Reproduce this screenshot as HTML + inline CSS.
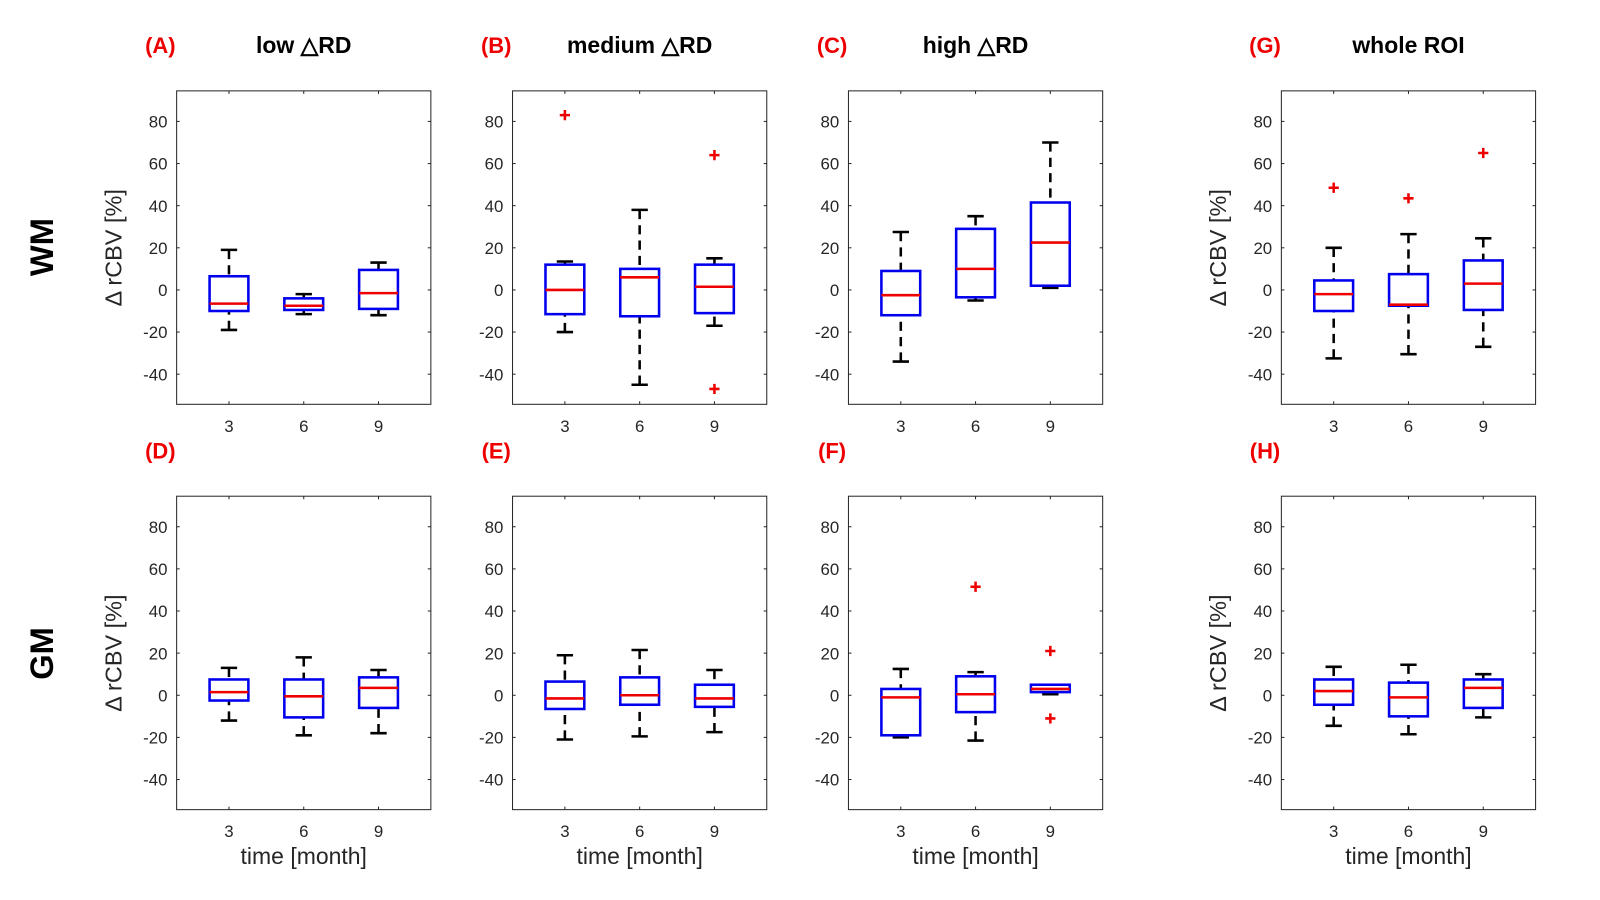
<!DOCTYPE html>
<html><head><meta charset="utf-8"><style>
body{margin:0;background:#fff;}
svg{display:block;font-family:"Liberation Sans",Arial,sans-serif;}
</style></head><body>
<svg id="fig" width="1600" height="900" viewBox="0 0 1600 900" xmlns="http://www.w3.org/2000/svg"><g id="root" transform="scale(1.021)"></g></svg>
<script>
const categories = [3, 6, 9];
const yTicks = [-40, -20, 0, 20, 40, 60, 80];
const panelLetters = ["(A)","(B)","(C)","(G)","(D)","(E)","(F)","(H)"];
const panelTitles = ["low \u25B3RD","medium \u25B3RD","high \u25B3RD","whole ROI","","","",""];
// each stat: [lowerWhisker, q1, median, q3, upperWhisker]
const statsA = [[-19,-10,-6.5,6.5,19],[-11.5,-9.5,-7.5,-4,-2],[-12,-9,-1.5,9.5,13]];
const statsB = [[-20,-11.5,0,12,13.5],[-45,-12.5,6,10,38],[-17,-11,1.5,12,15]];
const statsC = [[-34,-12,-2.5,9,27.5],[-5,-3.5,10,29,35],[1,2,22.5,41.5,70]];
const statsG = [[-32.5,-10,-2,4.5,20],[-30.5,-7.5,-7,7.5,26.5],[-27,-9.5,3,14,24.5]];
const statsD = [[-12,-2.5,1.5,7.5,13],[-19,-10.5,-0.5,7.5,18],[-18,-6,3.5,8.5,12]];
const statsE = [[-21,-6.5,-1.5,6.5,19],[-19.5,-4.5,0,8.5,21.5],[-17.5,-5.5,-1.5,5,12]];
const statsF = [[-20,-19,-1,3,12.5],[-21.5,-8,0.5,9,11],[0.5,1.5,3,5,5]];
const statsH = [[-14.5,-4.5,2,7.5,13.5],[-18.5,-10,-1,6,14.5],[-10.5,-6,3.5,7.5,10]];
const outA = [[],[],[]];
const outB = [[83],[],[64,-47]];
const outC = [[],[],[]];
const outG = [[48.5],[43.5],[65]];
const outD = [[],[],[]];
const outE = [[],[],[]];
const outF = [[],[51.5],[21,-11]];
const outH = [[],[],[]];

const allStats=[statsA,statsB,statsC,statsG,statsD,statsE,statsF,statsH];
const allOut=[outA,outB,outC,outG,outD,outE,outF,outH];
const NS="http://www.w3.org/2000/svg";
const svg=document.getElementById('root');
function mk(tag,attrs,parent,text){const e=document.createElementNS(NS,tag);for(const k in attrs)e.setAttribute(k,attrs[k]);if(text!==undefined)e.textContent=text;(parent||svg).appendChild(e);return e;}
const lefts=[173,502,831,1255], tops=[89,486], W=249, H=307;
const yMin=-54.3,yMax=94.5,xMin=0.3,xMax=3.7;
const hasYLabel=[true,false,false,true];

[["WM",242],["GM",640]].forEach(([t,cy])=>{
 const e=mk('text',{x:0,y:0,transform:`translate(52,${cy}) rotate(-90)`,'text-anchor':'middle','font-size':32,'font-weight':'bold',fill:'#000'},svg,t);
 
 
});

for(let p=0;p<8;p++){
 const col=p%4,row=Math.floor(p/4);
 const L=lefts[col],T=tops[row];
 const g=mk('g',{});
 
 
 const sx=v=>L+(v-xMin)/(xMax-xMin)*W;
 const sy=v=>T+(yMax-v)/(yMax-yMin)*H;
 const lt=mk('text',{x:L-16,y:T-37,'text-anchor':'middle','font-size':21.5,'font-weight':'bold',fill:'#e00'},g,panelLetters[p]);
 
 
 if(panelTitles[p]){
  const tt=mk('text',{x:L+W/2,y:T-37,'text-anchor':'middle','font-size':22.5,'font-weight':'bold',fill:'#000'},g,panelTitles[p]);
  
  
 }
 const frame=mk('rect',{x:L,y:T,width:W,height:H,fill:'#fff',stroke:'#262626','stroke-width':1},g);
 
 
 yTicks.forEach(t=>{
  const y=sy(t);
  mk('line',{x1:L,x2:L+3,y1:y,y2:y,stroke:'#262626'},g);
  mk('line',{x1:L+W-3,x2:L+W,y1:y,y2:y,stroke:'#262626'},g);
  const tl=mk('text',{x:L-9,y:y+6,'text-anchor':'end','font-size':16.5,fill:'#262626'},g,String(t));
  
  
 });
 categories.forEach((c,i)=>{
  const x=sx(i+1);
  mk('line',{x1:x,x2:x,y1:T+H,y2:T+H-3,stroke:'#262626'},g);
  mk('line',{x1:x,x2:x,y1:T,y2:T+3,stroke:'#262626'},g);
  const xl=mk('text',{x:x,y:T+H+27,'text-anchor':'middle','font-size':16.5,fill:'#262626'},g,String(c));
  
  
 });
 if(row===1){
  const xt=mk('text',{x:L+W/2,y:T+H+53,'text-anchor':'middle','font-size':22.5,fill:'#262626'},g,'time [month]');
  
  
 }
 if(hasYLabel[col]){
  const yt=mk('text',{x:0,y:0,transform:`translate(${L-54},${sy(20)}) rotate(-90)`,'text-anchor':'middle','font-size':23,fill:'#262626'},g,'\u0394 rCBV [%]');
  
  
 }
 allStats[p].forEach((s,i)=>{
  const x=sx(i+1), hw=19, cw=8;
  const bg=mk('g',{},g);
  
  
  mk('line',{x1:x,x2:x,y1:sy(s[0]),y2:sy(s[1]),stroke:'#000','stroke-width':2.5,'stroke-dasharray':'9,6'},bg);
  mk('line',{x1:x,x2:x,y1:sy(s[4]),y2:sy(s[3]),stroke:'#000','stroke-width':2.5,'stroke-dasharray':'9,6'},bg);
  mk('line',{x1:x-cw,x2:x+cw,y1:sy(s[0]),y2:sy(s[0]),stroke:'#000','stroke-width':2.5},bg);
  mk('line',{x1:x-cw,x2:x+cw,y1:sy(s[4]),y2:sy(s[4]),stroke:'#000','stroke-width':2.5},bg);
  mk('rect',{x:x-hw,y:sy(s[3]),width:2*hw,height:sy(s[1])-sy(s[3]),fill:'none',stroke:'#0000ee','stroke-width':2.5},bg);
  mk('line',{x1:x-hw,x2:x+hw,y1:sy(s[2]),y2:sy(s[2]),stroke:'#ee0000','stroke-width':2.5},bg);
  allOut[p][i].forEach(o=>{
   const yo=sy(o);
   const op=mk('path',{d:`M${x-5},${yo}H${x+5}M${x},${yo-5}V${yo+5}`,stroke:'#ee0000','stroke-width':2.5},bg);
   
   
  });
 });
}
</script>
</body></html>
